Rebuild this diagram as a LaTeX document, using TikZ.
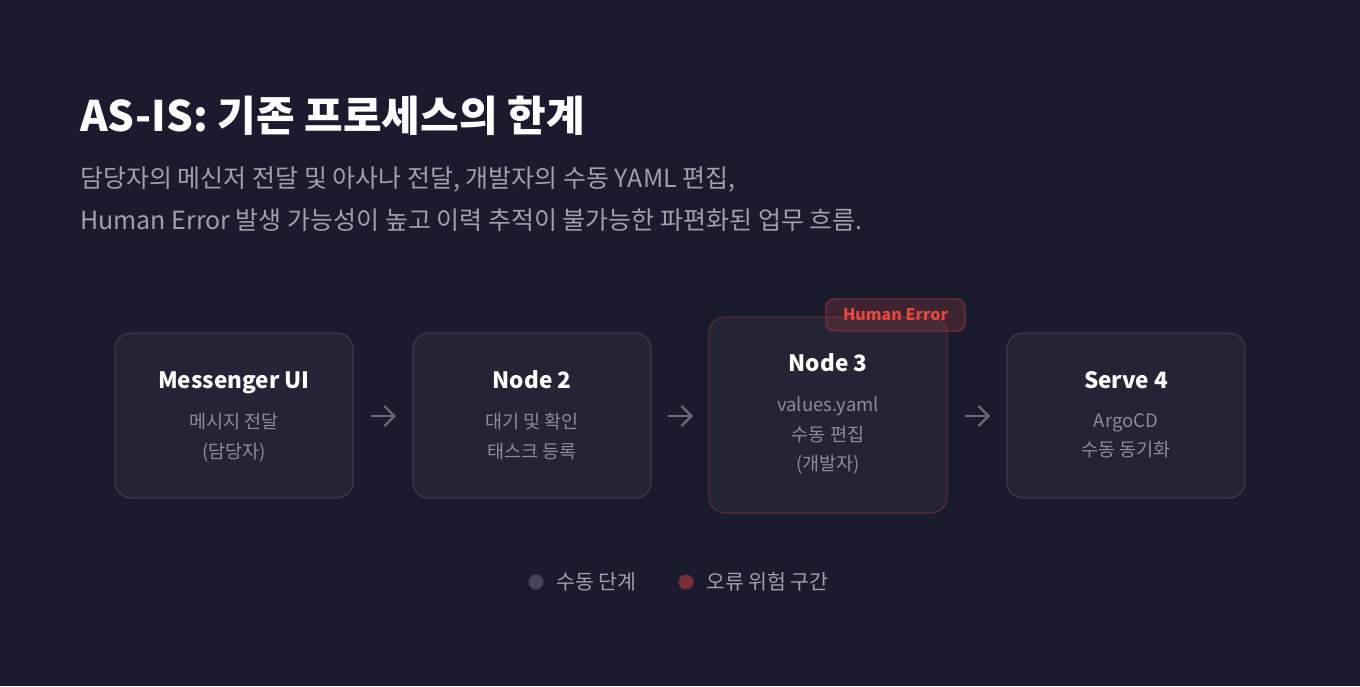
\documentclass[tikz,border=0pt]{standalone}
\usepackage{fontspec}
\setmainfont{Noto Sans CJK KR}
\usetikzlibrary{arrows.meta}
\definecolor{bg}{HTML}{1A1B2E}
\definecolor{boxfill}{HTML}{232436}
\definecolor{boxline}{HTML}{3A3B4E}
\definecolor{errline}{HTML}{5C2B36}
\definecolor{subgray}{HTML}{8C8C98}
\definecolor{leadgray}{HTML}{A0A0AB}
\definecolor{arrowgray}{HTML}{6B6B78}
\definecolor{errred}{HTML}{E5483E}
\definecolor{badgeline}{HTML}{7A3038}
\definecolor{dotgray}{HTML}{44455A}
\definecolor{dotred}{HTML}{7A2F35}
\tikzset{
  stepbox/.style={draw=boxline, fill=boxfill, line width=1.2pt, rounded corners=16pt, minimum width=238pt, minimum height=165pt, inner sep=0pt},
  errbox/.style={stepbox, draw=errline, minimum height=196pt},
  boxtitle/.style={text=white, font=\fontsize{22.5}{26}\selectfont\bfseries, anchor=base},
  boxsub/.style={text=subgray, font=\fontsize{18.5}{29.5}\selectfont, anchor=north, align=center, inner sep=0pt},
  flow/.style={draw=arrowgray, line width=2.2pt, -{Straight Barb[length=10pt,width=20pt]}},
  badge/.style={draw=badgeline, fill=errred, fill opacity=0.18, draw opacity=1, text opacity=1, rounded corners=8pt, line width=1.2pt, minimum width=139pt, minimum height=32pt, text=errred, font=\fontsize{16}{18}\selectfont\bfseries},
  legdot/.style={circle, inner sep=0pt, minimum size=15pt},
  legtext/.style={text=leadgray, font=\fontsize{20.5}{24}\selectfont, anchor=west, inner sep=0pt}
}
\begin{document}
\begin{tikzpicture}[x=1pt,y=-1pt]
\fill[bg] (0,0) rectangle (1360,686);
\useasboundingbox (0,0) rectangle (1360,686);
% heading
\node[anchor=base west, inner sep=0pt, text=white, font=\fontsize{42}{46}\selectfont\bfseries] (title) at (80,131) {AS-IS: 기존 프로세스의 한계};
\node[anchor=base west, inner sep=0pt, text=leadgray, font=\fontsize{25}{30}\selectfont] (lead1) at (80,187) {담당자의 메신저 전달 및 아사나 전달, 개발자의 수동 YAML 편집,};
\node[anchor=base west, inner sep=0pt, text=leadgray, font=\fontsize{25}{30}\selectfont] (lead2) at (80,229) {Human Error 발생 가능성이 높고 이력 추적이 불가능한 파편화된 업무 흐름.};
% boxes
\node[stepbox] (b1) at (234,415.5) {};
\node[stepbox] (b2) at (532,415.5) {};
\node[errbox] (b3) at (828,415) {};
\node[stepbox] (b4) at (1126,415.5) {};
% box texts
\node[boxtitle] (t1) at (234,388) {Messenger UI};
\node[boxsub] (s1) at (234,413) {메시지 전달\\(담당자)};
\node[boxtitle] (t3) at (828,371) {Node 3};
\node[boxtitle] (t2) at (532,388) {Node 2};
\node[boxsub] (s2) at (532,413) {대기 및 확인\\태스크 등록};
\node[boxsub] (s3) at (828,397) {values.yaml\\수동 편집\\(개발자)};
\node[boxtitle] (t4) at (1126,388) {Serve 4};
\node[boxsub] (s4) at (1126,413) {ArgoCD\\수동 동기화};
% arrows
\coordinate (a1s) at (371,416); \coordinate (a1e) at (396,416);
\coordinate (a2s) at (668,416); \coordinate (a2e) at (693,416);
\coordinate (a3s) at (965,416); \coordinate (a3e) at (990,416);
\draw[flow] (a1s) -- (a1e);
\draw[flow] (a2s) -- (a2e);
\draw[flow] (a3s) -- (a3e);
% badge
\node[badge] (hb) at (895.5,315) {Human Error};
% legend
\node[legdot, fill=dotgray] (d1) at (536,582) {};
\node[legtext] (l1) at (556,582) {수동 단계};
\node[legdot, fill=dotred] (d2) at (686,582) {};
\node[legtext] (l2) at (706,582) {오류 위험 구간};
\end{tikzpicture}
\end{document}
